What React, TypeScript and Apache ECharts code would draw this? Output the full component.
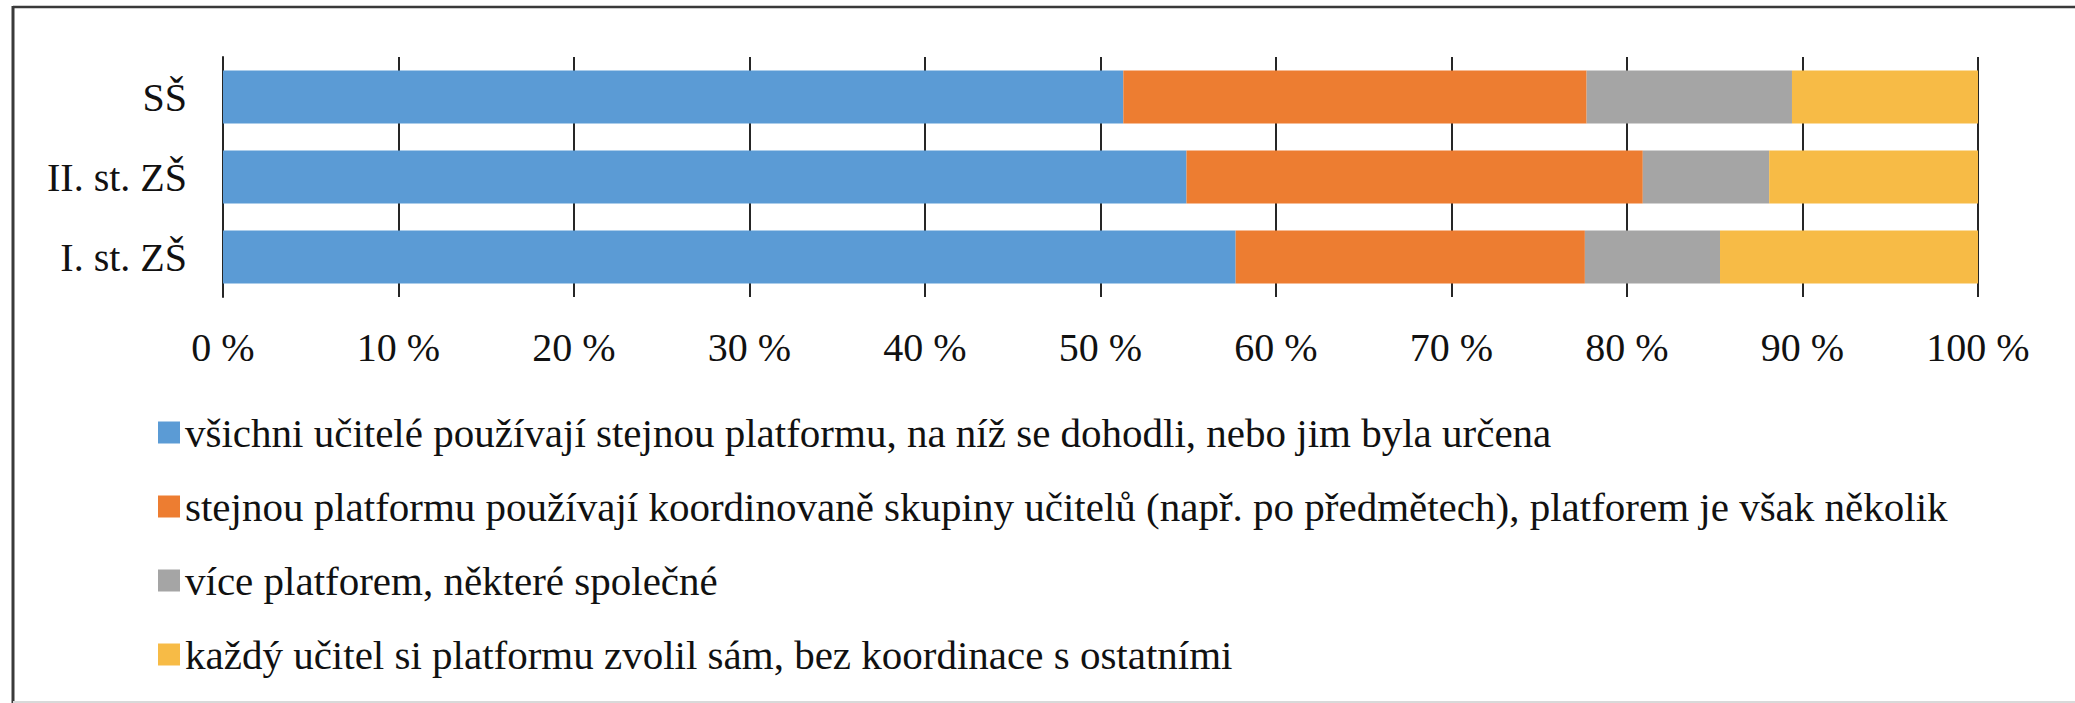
import React, { useEffect, useRef } from "react";
import * as echarts from "echarts";

const categories = ["I. st. ZŠ", "II. st. ZŠ", "SŠ"];
const seriesNames = [
  "všichni učitelé používají stejnou platformu, na níž se dohodli, nebo jim byla určena",
  "stejnou platformu používají koordinovaně skupiny učitelů (např. po předmětech), platforem je však několik",
  "více platforem, některé společné",
  "každý učitel si platformu zvolil sám, bez koordinace s ostatními",
];
const allSame = [57.7, 54.9, 51.3];
const groups = [19.9, 26.0, 26.4];
const several = [7.7, 7.2, 11.7];
const eachOwn = [14.7, 11.9, 10.6];
const colors = ["#5B9BD5", "#ED7D31", "#A5A5A5", "#F7BB46"];

const FONT = "'Liberation Serif', 'Times New Roman', serif";

export default function App() {
  const ref = useRef<HTMLDivElement>(null);
  useEffect(() => {
    document.body.style.margin = "0";
    const chart = echarts.init(ref.current!, null, { renderer: "svg" });
    const values = [allSame, groups, several, eachOwn];
    chart.setOption({
      animation: false,
      backgroundColor: "#ffffff",
      textStyle: { fontFamily: FONT },
      grid: { left: 223, right: 97, top: 57, height: 240, containLabel: false },
      xAxis: {
        type: "value",
        min: 0,
        max: 100,
        interval: 10,
        axisLine: { show: false },
        axisTick: { show: false },
        splitLine: { show: true, lineStyle: { color: "#262626", width: 2 } },
        axisLabel: {
          formatter: (v: number) => `${v} %`,
          fontFamily: FONT,
          fontSize: 40,
          color: "#111",
          margin: 30,
        },
      },
      yAxis: {
        type: "category",
        data: categories,
        axisLine: { show: true, lineStyle: { color: "#262626", width: 2 } },
        axisTick: { show: false },
        axisLabel: { fontFamily: FONT, fontSize: 40, color: "#111", margin: 36 },
      },
      legend: {
        orient: "vertical",
        left: 153,
        top: 407,
        itemWidth: 22,
        itemHeight: 22,
        itemGap: 33,
        icon: "rect",
        textStyle: { fontFamily: FONT, fontSize: 41, color: "#111", lineHeight: 40 },
        data: seriesNames,
      },
      series: seriesNames.map((name, i) => ({
        name,
        type: "bar",
        stack: "total",
        barWidth: 53,
        itemStyle: { color: colors[i] },
        data: values[i],
      })),
      graphic: [
        { type: "line", shape: { x1: 13, y1: 7, x2: 2075, y2: 7 }, style: { stroke: "#3a3a3a", lineWidth: 2.5 } },
        { type: "line", shape: { x1: 13, y1: 6, x2: 13, y2: 703 }, style: { stroke: "#3a3a3a", lineWidth: 3 } },
        { type: "line", shape: { x1: 13, y1: 702, x2: 2075, y2: 702 }, style: { stroke: "#d9d9d9", lineWidth: 2 } },
      ],
    });
    return () => chart.dispose();
  }, []);
  return (
    <div
      ref={ref}
      style={{ position: "absolute", left: 0, top: 0, width: 2075, height: 703 }}
    />
  );
}
